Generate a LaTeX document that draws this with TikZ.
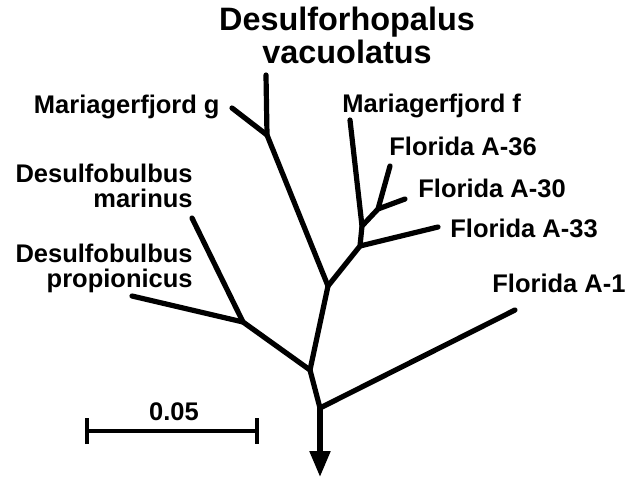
\documentclass[tikz,border=0pt]{standalone}
\usepackage{fontspec}
\setmainfont{Liberation Sans}
\usepackage{tikz}
\usetikzlibrary{arrows.meta}

\begin{document}
\begin{tikzpicture}[
  x=0.5pt, y=-0.5pt,
  branch/.style={line width=2.6pt, line cap=round, line join=round},
  rootarrow/.style={branch, -{Triangle[length=13pt, width=10pt]}},
  scalebar/.style={line width=2pt, {Bar[width=13pt]}-{Bar[width=13pt]}},
  taxon/.style={font=\fontsize{12.75}{12.5}\selectfont\bfseries, inner sep=0pt},
  bigtaxon/.style={font=\fontsize{16.2}{14}\selectfont\bfseries, inner sep=0pt, align=center}
]
\useasboundingbox (0,0) rectangle (633,479);

\coordinate (r) at (320,408);
\coordinate (root) at (320,477);
\coordinate (n1) at (310,370);
\coordinate (nd) at (243,322);
\coordinate (n2) at (328,286);
\coordinate (nm) at (267,135);
\coordinate (n3) at (360,246);
\coordinate (n4) at (362,226);
\coordinate (n5) at (378,209);

\coordinate (tipa1) at (515,310);
\coordinate (tipmar) at (192,218);
\coordinate (tipprop) at (132,296);
\coordinate (tipdv) at (266,75);
\coordinate (tipmg) at (232,108);
\coordinate (tipa33) at (438,227);
\coordinate (tipmf) at (350,120);
\coordinate (tipa36) at (390,166);
\coordinate (tipa30) at (405,199);

\coordinate (sl) at (85,431);
\coordinate (sr) at (259,431);

\node[bigtaxon, anchor=base] (dvac) at (347,63) {Desulforhopalus\\vacuolatus};
\node[taxon, anchor=base east] (mg) at (220,113) {Mariagerfjord g};
\node[taxon, anchor=base west] (mf) at (342,112) {Mariagerfjord f};
\node[taxon, anchor=base west] (a36) at (389,155) {Florida A-36};
\node[taxon, anchor=base west] (a30) at (418,197) {Florida A-30};
\node[taxon, anchor=base west] (a33) at (450,237) {Florida A-33};
\node[taxon, anchor=base west] (a1) at (492,292) {Florida A-1};
\node[taxon, align=right, anchor=base east] (dmar) at (193,207) {Desulfobulbus\\marinus};
\node[taxon, align=right, anchor=base east] (dprop) at (193,287) {Desulfobulbus\\propionicus};
\node[taxon, anchor=base] (len) at (174,420) {0.05};

\draw[branch] (tipa1) -- (r) -- (n1) -- (n2) -- (nm) -- (tipdv);
\draw[branch] (nm) -- (tipmg);
\draw[branch] (n1) -- (nd) -- (tipmar);
\draw[branch] (nd) -- (tipprop);
\draw[branch] (n2) -- (n3) -- (n4) -- (tipmf);
\draw[branch] (n3) -- (tipa33);
\draw[branch] (n4) -- (n5) -- (tipa36);
\draw[branch] (n5) -- (tipa30);
\draw[rootarrow] (r) -- (root);
\draw[scalebar] (sl) -- (sr);
\end{tikzpicture}
\end{document}
